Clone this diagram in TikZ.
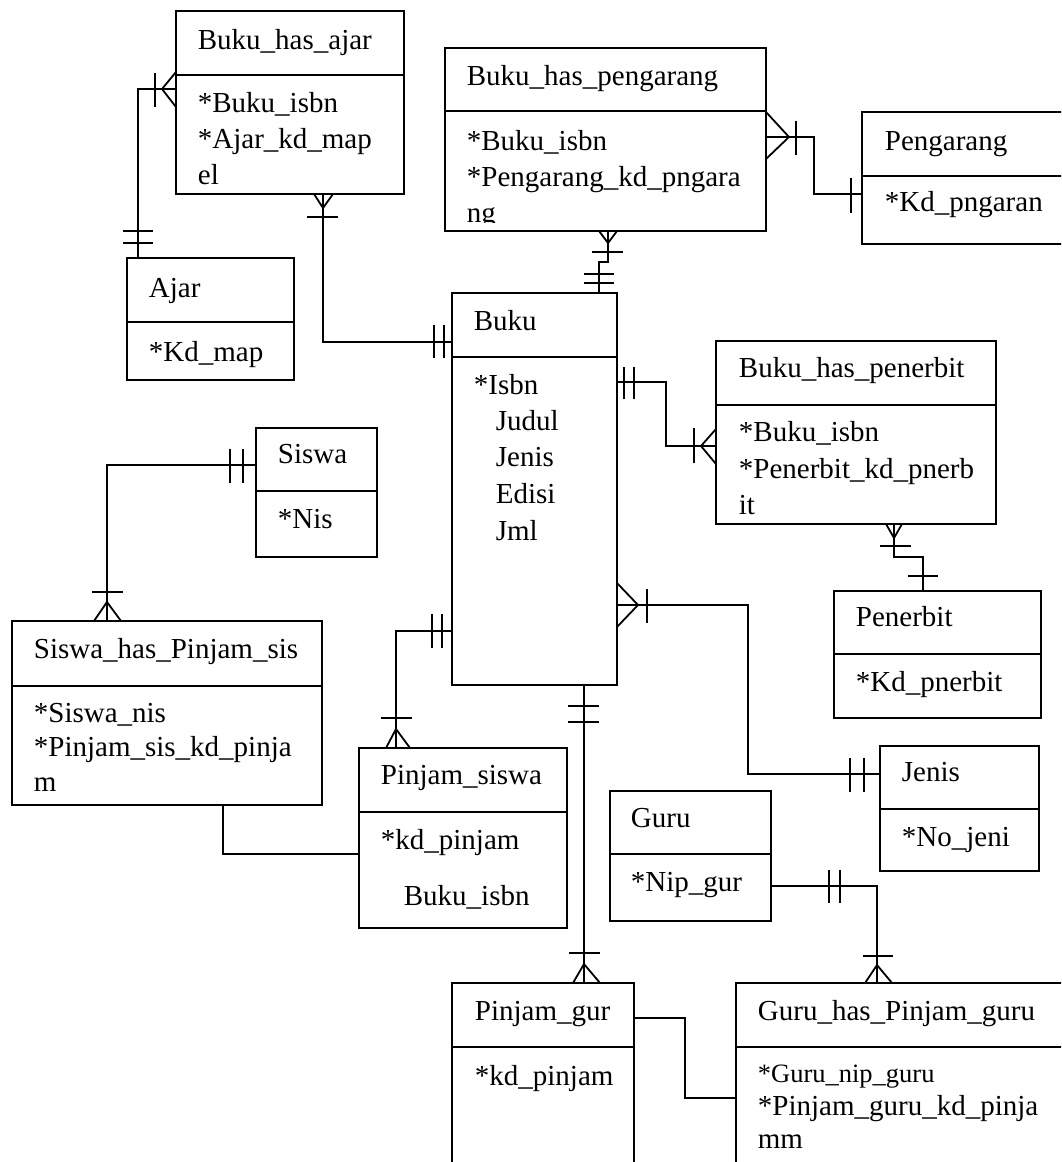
\documentclass[tikz,border=0pt]{standalone}
\usepackage{fontspec}
\setmainfont{Liberation Serif}
\newcommand\ent[6]{%
  \node[box, minimum width={(#4-#2)*1pt}, minimum height={(#5-#3)*1pt}] (#1) at (#2,#3) {};
  \draw (#2,#6) -- (#4,#6);}
\newcommand\tx[4]{\node[lbl] (#1) at (#2,#3) {#4};}
\newcommand\crow[6]{\draw (#1,#2) -- (#3,#4) -- (#5,#6);}
\newcommand\mk[4]{\draw (#1,#2) -- (#3,#4);}
\begin{document}
\begin{tikzpicture}[x=1pt,y=-1pt,line width=1.8pt,
  box/.style={draw, rectangle, inner sep=0pt, outer sep=0pt, anchor=north west},
  lbl/.style={anchor=base west, inner sep=0pt, font=\fontsize{29}{34}\selectfont},
  small/.style={font=\fontsize{26.5}{30}\selectfont}]
\clip (0,0) rectangle (1061,1162);
\fill[white] (0,0) rectangle (1061,1162);
% entities
\ent{bha}{176}{11}{404}{194}{75}
\ent{ajar}{127}{258}{294}{380}{322}
\ent{bhp}{445}{48}{766}{231}{111}
\ent{peng}{862}{112}{1110}{244}{176}
\ent{buku}{452}{293}{617}{685}{357}
\ent{bhpen}{716}{341}{996}{524}{405}
\ent{penerbit}{834}{591}{1041}{718}{654}
\ent{jenis}{880}{746}{1039}{871}{809}
\ent{siswa}{256}{428}{377}{557}{491}
\ent{shp}{12}{621}{322}{805}{686}
\ent{ps}{359}{748}{567}{928}{812}
\ent{guru}{610}{791}{771}{921}{854}
\ent{pg}{452}{983}{634}{1210}{1047}
\ent{ghpg}{736}{983}{1110}{1210}{1047}
% texts
\tx{t1}{197}{49}{Buku\_has\_ajar}
\tx{t2}{197}{112}{*Buku\_isbn}
\tx{t3}{197}{148}{*Ajar\_kd\_map}
\tx{t4}{197}{184}{el}
\tx{t5}{148}{297}{Ajar}
\tx{t6}{148}{361}{*Kd\_map}
\tx{t7}{466}{85}{Buku\_has\_pengarang}
\tx{t8}{466}{150}{*Buku\_isbn}
\tx{t9}{466}{186}{*Pengarang\_kd\_pngara}
\begin{scope}
\clip (447,190) rectangle (764,222);
\tx{t10}{466}{222}{ng}
\end{scope}
\tx{t11}{884}{150}{Pengarang}
\tx{t12}{884}{211}{*Kd\_pngaran}
\tx{t13}{473}{330}{Buku}
\tx{t14}{473}{394}{*Isbn}
\tx{t15}{495}{430}{Judul}
\tx{t16}{495}{466}{Jenis}
\tx{t17}{495}{503}{Edisi}
\tx{t18}{495}{540}{Jml}
\tx{t19}{738}{377}{Buku\_has\_penerbit}
\tx{t20}{738}{441}{*Buku\_isbn}
\tx{t21}{738}{478}{*Penerbit\_kd\_pnerb}
\tx{t22}{738}{514}{it}
\tx{t23}{855}{626}{Penerbit}
\tx{t24}{855}{691}{*Kd\_pnerbit}
\tx{t25}{901}{781}{Jenis}
\tx{t26}{901}{846}{*No\_jeni}
\tx{t27}{277}{463}{Siswa}
\tx{t28}{277}{528}{*Nis}
\tx{t29}{33}{658}{Siswa\_has\_Pinjam\_sis}
\tx{t30}{33}{722}{*Siswa\_nis}
\tx{t31}{33}{756}{*Pinjam\_sis\_kd\_pinja}
\tx{t32}{33}{791}{m}
\tx{t33}{380}{784}{Pinjam\_siswa}
\tx{t34}{380}{849}{*kd\_pinjam}
\tx{t35}{403}{905}{Buku\_isbn}
\tx{t36}{630}{827}{Guru}
\tx{t37}{630}{891}{*Nip\_gur}
\tx{t38}{474}{1020}{Pinjam\_gur}
\tx{t39}{474}{1085}{*kd\_pinjam}
\tx{t40}{757}{1020}{Guru\_has\_Pinjam\_guru}
\node[lbl, small] (t41) at (757,1082) {*Guru\_nip\_guru};
\tx{t42}{757}{1115}{*Pinjam\_guru\_kd\_pinja}
\tx{t43}{757}{1148}{mm}
% connectors
\draw ([xshift=11pt]ajar.north west) |- ([yshift=-78pt]bha.north west);
\draw ([xshift=147pt]bha.south west) |- ([yshift=-49pt]buku.north west);
\draw ([yshift=-89pt]bhp.north east) -- ++(48,0) |- ([yshift=-82pt]peng.north west);
\draw ([xshift=163pt]bhp.south west) -- ++(0,31) -| ([xshift=147pt]buku.north west);
\draw ([yshift=-89pt]buku.north east) -- ++(49,0) |- ([yshift=-105pt]bhpen.north west);
\draw ([xshift=178pt]bhpen.south west) -- ++(0,33) -| ([xshift=89pt]penerbit.north west);
\draw ([yshift=-312pt]buku.north east) -- ++(131,0) |- ([yshift=-28pt]jenis.north west);
\draw ([yshift=-37pt]siswa.north west) -| ([xshift=95pt]shp.north west);
\draw ([xshift=211pt]shp.south west) |- ([yshift=-106pt]ps.north west);
\draw ([yshift=-338pt]buku.north west) -| ([xshift=37pt]ps.north west);
\draw ([xshift=132pt]buku.south west) -- ([xshift=132pt]pg.north west);
\draw ([yshift=-95pt]guru.north east) -| ([xshift=141pt]ghpg.north west);
\draw ([yshift=-35pt]pg.north east) -- ++(51,0) |- ([yshift=-115pt]ghpg.north west);
% cardinality marks
\mk{123}{231}{153}{231} \mk{123}{243}{153}{243}
\crow{176}{72}{162}{89}{176}{107} \mk{155}{73}{155}{107}
\crow{314}{194}{323}{208}{333}{194} \mk{307}{217}{338}{217}
\mk{434}{325}{434}{358} \mk{444}{325}{444}{358}
\crow{766}{112}{789}{137}{766}{159} \mk{796}{121}{796}{155}
\mk{851}{178}{851}{213}
\crow{599}{231}{608}{243}{617}{231} \mk{592}{252}{623}{252}
\mk{584}{274}{614}{274} \mk{584}{283}{614}{283}
\mk{624}{367}{624}{399} \mk{634}{367}{634}{399}
\crow{716}{429}{701}{446}{716}{464} \mk{694}{428}{694}{463}
\crow{886}{524}{894}{538}{902}{524} \mk{880}{546}{911}{546}
\mk{908}{576}{938}{576}
\crow{617}{583}{638}{605}{617}{627} \mk{647}{589}{647}{623}
\mk{850}{758}{850}{792} \mk{864}{758}{864}{792}
\mk{230}{449}{230}{483} \mk{243}{449}{243}{483}
\crow{94}{621}{107}{602}{121}{621} \mk{92}{592}{123}{592}
\mk{432}{614}{432}{648} \mk{442}{614}{442}{648}
\crow{386}{748}{396}{729}{410}{748} \mk{381}{718}{412}{718}
\mk{568}{706}{599}{706} \mk{568}{722}{599}{722}
\crow{573}{983}{584}{964}{600}{983} \mk{569}{953}{600}{953}
\mk{829}{870}{829}{903} \mk{840}{870}{840}{903}
\crow{865}{983}{877}{965}{892}{983} \mk{863}{956}{893}{956}
\end{tikzpicture}
\end{document}
